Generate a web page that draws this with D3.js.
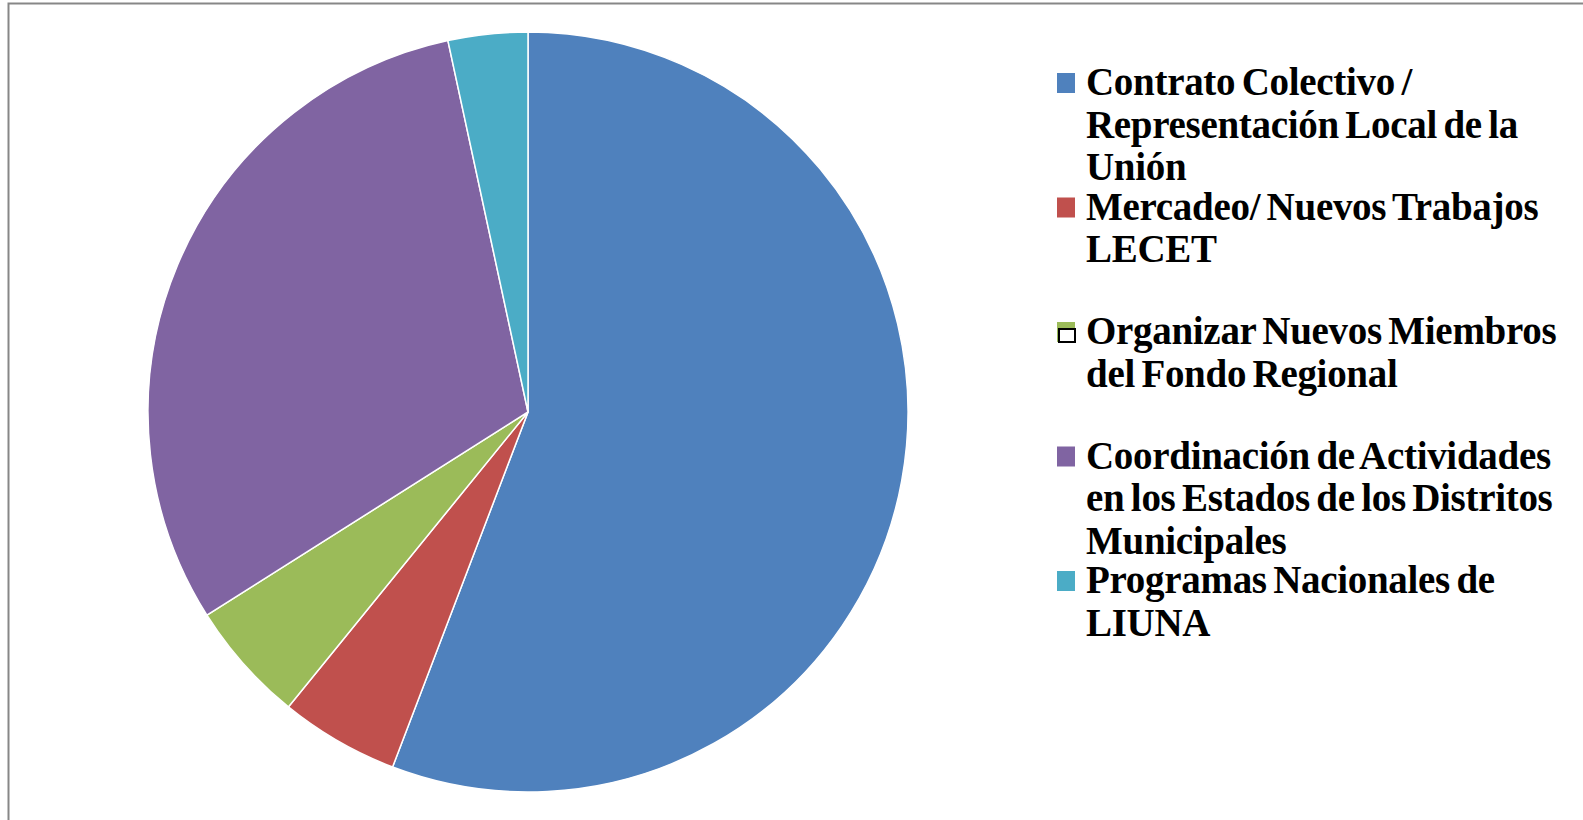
<!DOCTYPE html>
<html>
<head>
<meta charset="utf-8">
<script src="https://cdn.jsdelivr.net/npm/d3@7"></script>
<style>
  html, body { margin: 0; padding: 0; background: #fff; overflow: hidden; }
  .legend-text { font-family: "Liberation Serif", "Times New Roman", serif; font-weight: bold; fill: #000; }
</style>
</head>
<body>
<svg id="chart" width="1583" height="820"></svg>
<script>
// slice data (share of the whole, %)
const categories = [
    'Contrato Colectivo / Representación Local de la Unión',
    'Mercadeo/ Nuevos Trabajos LECET',
    'Organizar Nuevos Miembros del Fondo Regional',
    'Coordinación de Actividades en los Estados de los Distritos Municipales',
    'Programas Nacionales de LIUNA'
];
const values = [55.8, 5.06, 5.16, 30.6, 3.38];
const colors = ['#4F81BD', '#C0504D', '#9BBB59', '#8064A2', '#4BACC6'];

// how each legend label wraps in the source
const legendLines = [
    ['Contrato Colectivo /', 'Representación Local de la', 'Unión'],
    ['Mercadeo/ Nuevos Trabajos', 'LECET'],
    ['Organizar Nuevos Miembros', 'del Fondo Regional'],
    ['Coordinación de Actividades', 'en los Estados de los Distritos', 'Municipales'],
    ['Programas Nacionales de', 'LIUNA']
];

const svg = d3.select('#chart');

// outer frame (runs off right/bottom edge like the source)
svg.append('rect')
    .attr('x', 8.5).attr('y', 3.5)
    .attr('width', 1700).attr('height', 900)
    .attr('fill', 'none')
    .attr('stroke', '#878787')
    .attr('stroke-width', 2);

// pie
const cx = 528, cy = 412, radius = 380;
const pie = d3.pie().sort(null).value(d => d);
const arc = d3.arc().innerRadius(0).outerRadius(radius);

const g = svg.append('g').attr('transform', `translate(${cx},${cy})`);
g.selectAll('path')
    .data(pie(values))
    .enter()
    .append('path')
    .attr('d', arc)
    .attr('fill', (d, i) => colors[i])
    .attr('stroke', '#fff')
    .attr('stroke-width', 1.5);

// legend: entries are spaced evenly, lines inside an entry a bit tighter
const itemStep = 124.5;
const lineH = 42.5;
const firstBase = 95;
const markX = 1057, textX = 1086;

const legend = svg.append('g');
categories.forEach((c, i) => {
    const base = firstBase + i * itemStep;
    const item = legend.append('g');

    item.append('rect')
        .attr('x', markX).attr('y', base - 22)
        .attr('width', 18).attr('height', 20)
        .attr('fill', colors[i]);

    // the green one has a stray outlined box on top of it in the source
    if (i === 2) {
        item.append('rect')
            .attr('x', markX + 2).attr('y', base - 15)
            .attr('width', 16).attr('height', 13)
            .attr('fill', '#fff')
            .attr('stroke', '#000')
            .attr('stroke-width', 2);
    }

    legendLines[i].forEach((t, j) => {
        item.append('text')
            .attr('class', 'legend-text')
            .attr('x', textX)
            .attr('y', base + j * lineH)
            .style('font-size', '39px')
            .style('word-spacing', '-3px')
            .style('letter-spacing', '-0.3px')
            .text(t);
    });
});
</script>
</body>
</html>
